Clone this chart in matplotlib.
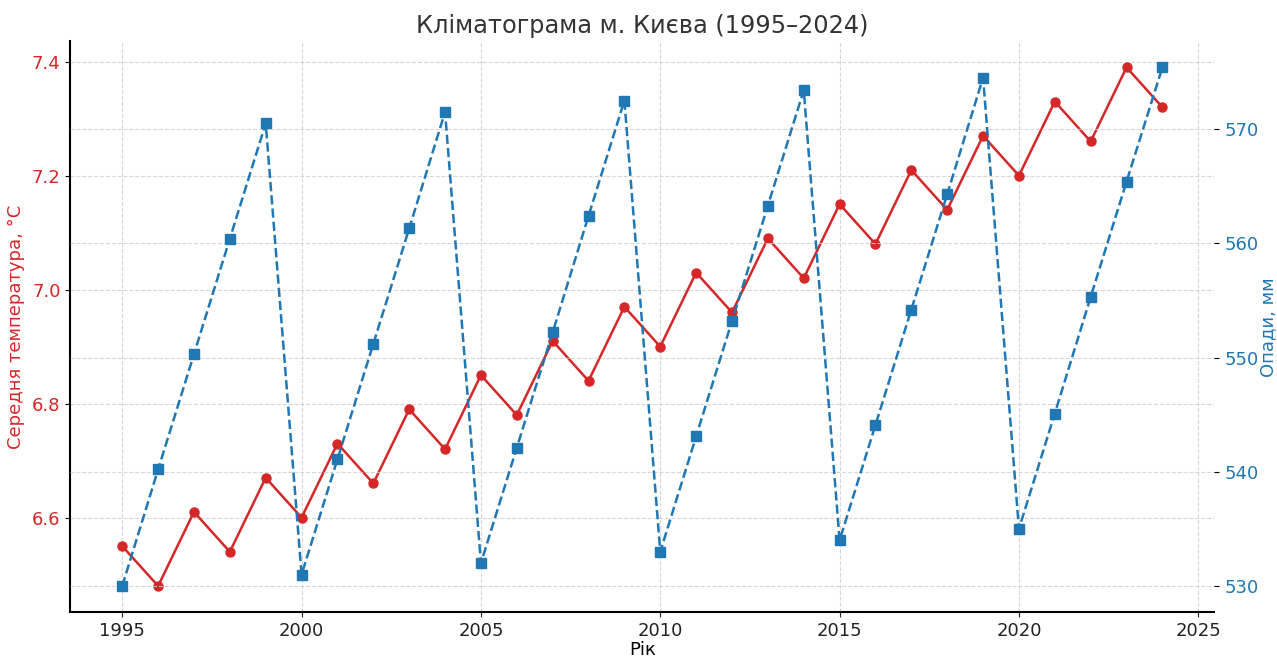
import matplotlib.pyplot as plt

# роки та дані
years = list(range(1995, 2025))
temperature = [6.55, 6.48, 6.61, 6.54, 6.67, 6.60, 6.73, 6.66, 6.79, 6.72,
               6.85, 6.78, 6.91, 6.84, 6.97, 6.90, 7.03, 6.96, 7.09, 7.02,
               7.15, 7.08, 7.21, 7.14, 7.27, 7.20, 7.33, 7.26, 7.39, 7.32]
precip = [530.0, 540.2, 550.3, 560.4, 570.5, 531.0, 541.1, 551.2, 561.3, 571.5,
          532.0, 542.1, 552.2, 562.4, 572.5, 533.0, 543.1, 553.2, 563.3, 573.4,
          534.0, 544.1, 554.2, 564.3, 574.5, 535.0, 545.1, 555.3, 565.4, 575.4]

red = "#d62728"
blue = "#1f77b4"

fig, ax = plt.subplots(figsize=(12.77, 6.58), dpi=100)
fig.subplots_adjust(left=0.055, right=0.951, top=0.937, bottom=0.07)

ax.plot(years, temperature, color=red, marker="o", markersize=6.5, linewidth=1.8)
ax.set_xlabel("Рік", fontsize=13, labelpad=1)
ax.set_ylabel("Середня температура, °C", color=red, fontsize=13, labelpad=5)
ax.tick_params(axis="y", labelcolor=red, labelsize=13)
ax.tick_params(axis="x", labelsize=13, colors="#222222")
ax.set_xticks([1995, 2000, 2005, 2010, 2015, 2020, 2025])
ax.grid(True, linestyle="--", color="#cccccc", linewidth=0.8, alpha=0.8)
ax.spines["top"].set_visible(False)
ax.spines["right"].set_visible(False)
ax.spines["left"].set_linewidth(1.5)
ax.spines["bottom"].set_linewidth(1.5)

ax2 = ax.twinx()
ax2.plot(years, precip, color=blue, marker="s", markersize=6.5, linewidth=1.8, linestyle="--")
ax2.set_ylabel("Опади, мм", color=blue, fontsize=13, labelpad=1)
ax2.tick_params(axis="y", labelcolor=blue, labelsize=13)
ax2.grid(True, axis="y", linestyle="--", color="#cccccc", linewidth=0.8, alpha=0.8)
for s in ax2.spines.values():
    s.set_visible(False)

ax.set_title("Кліматограма м. Києва (1995–2024)", fontsize=17.3, color="#333333")

plt.savefig("out.png", dpi=100)
